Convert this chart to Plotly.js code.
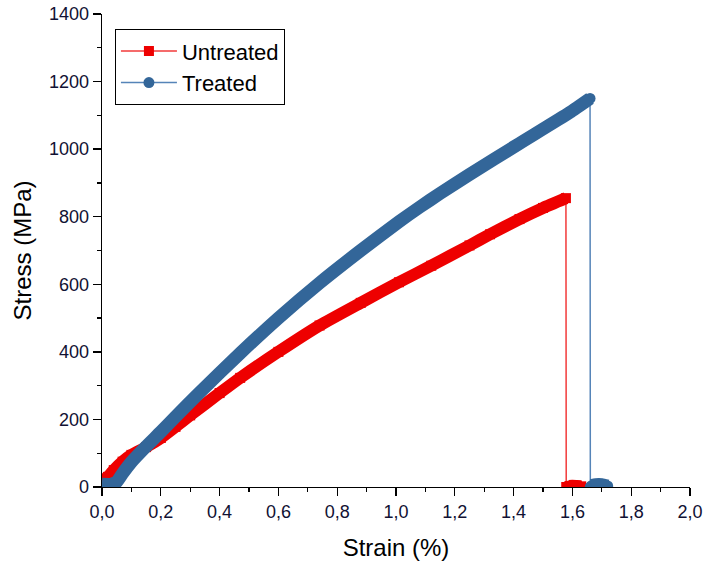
<!DOCTYPE html>
<html>
<head>
<meta charset="utf-8">
<script src="https://cdn.plot.ly/plotly-3.0.1.min.js"></script>
<style>html,body{margin:0;padding:0;background:#fff}#chart{width:705px;height:564px}</style>
</head>
<body>
<div id="chart"></div>
<script>
// Untreated: loading part up to fracture, then drop and residual points near zero
var untreatedStrain = [0.00, 0.02, 0.04, 0.07, 0.10, 0.15, 0.20, 0.25, 0.30, 0.40, 0.47, 0.60, 0.74, 0.88, 1.01, 1.12, 1.25, 1.32, 1.42, 1.50, 1.578];
var untreatedStress = [20, 30, 50, 75, 95, 118, 145, 178, 212, 278, 323, 400, 478, 545, 606, 655, 715, 748, 793, 826, 855];
var untreatedTailStrain = [1.579, 1.59, 1.60, 1.615, 1.63];
var untreatedTailStress = [0, 3, 4, 3, 2];

// Treated
var treatedStrain = [0.00, 0.03, 0.05, 0.07, 0.10, 0.15, 0.20, 0.25, 0.33, 0.47, 0.60, 0.74, 0.88, 1.01, 1.08, 1.15, 1.25, 1.42, 1.59, 1.66];
var treatedStress = [8, 8, 15, 40, 74, 120, 163, 208, 278, 396, 500, 604, 700, 785, 828, 869, 925, 1017, 1108, 1150];
var treatedTailStrain = [1.661, 1.665, 1.68, 1.70, 1.72];
var treatedTailStress = [0, 4, 7, 7, 3];

var seriesNames = ['Untreated', 'Treated'];
var xTickVals = [0, 0.2, 0.4, 0.6, 0.8, 1.0, 1.2, 1.4, 1.6, 1.8, 2.0];
var yTickVals = [0, 200, 400, 600, 800, 1000, 1200, 1400];

var RED = '#ee0000', RED_LINE = '#f23a3a';
var BLUE = '#336699', BLUE_LINE = '#5584b8';

function withGap(a, b) { return a.concat([null], b); }

var traces = [
  { // thin line + markers (legend)
    x: untreatedStrain.concat(untreatedTailStrain),
    y: untreatedStress.concat(untreatedTailStress),
    name: seriesNames[0], mode: 'lines+markers', type: 'scatter',
    line: {color: RED_LINE, width: 1.5},
    marker: {color: RED, symbol: 'square', size: 10}
  },
  {
    x: treatedStrain.concat(treatedTailStrain),
    y: treatedStress.concat(treatedTailStress),
    name: seriesNames[1], mode: 'lines+markers', type: 'scatter',
    line: {color: BLUE_LINE, width: 1.5},
    marker: {color: BLUE, symbol: 'circle', size: 11}
  },
  { // dense marker band
    x: withGap(untreatedStrain, untreatedTailStrain.slice(1)),
    y: withGap(untreatedStress, untreatedTailStress.slice(1)),
    mode: 'lines', type: 'scatter', showlegend: false, hoverinfo: 'skip',
    line: {color: RED, width: 12, shape: 'spline', smoothing: 0.5},
    connectgaps: false
  },
  {
    x: withGap(treatedStrain, treatedTailStrain.slice(1)),
    y: withGap(treatedStress, treatedTailStress.slice(1)),
    mode: 'lines', type: 'scatter', showlegend: false, hoverinfo: 'skip',
    line: {color: BLUE, width: 13, shape: 'spline', smoothing: 0.5},
    connectgaps: false
  }
];

var FONT = 'Liberation Sans, Arial, sans-serif';
var axBase = {
  showline: true, linecolor: '#000', linewidth: 1.3,
  showgrid: false, zeroline: false,
  tickcolor: '#000', tickwidth: 1.3
};

var layout = {
  width: 705, height: 564,
  margin: {l: 102, r: 15, t: 14, b: 77},
  paper_bgcolor: '#fff', plot_bgcolor: '#fff',
  separators: ',.',
  font: {family: FONT, color: '#000'},
  showlegend: true,
  legend: {
    x: 0.022, y: 0.968, xanchor: 'left', yanchor: 'top',
    bgcolor: '#fff', bordercolor: '#000', borderwidth: 1,
    font: {family: FONT, size: 22, color: '#000'},
    itemwidth: 56, tracegroupgap: 0,
    entrywidth: 176, entrywidthmode: 'pixels'
  },
  xaxis: Object.assign({}, axBase, {
    range: [0, 2], tickvals: xTickVals, tickformat: '.1f',
    ticks: 'outside', ticklen: 8,
    minor: {ticks: 'outside', ticklen: 4, dtick: 0.1, tickcolor: '#000', tickwidth: 1.3},
    tickfont: {family: FONT, size: 18, color: '#111133'},
    title: {text: 'Strain (%)', font: {family: FONT, size: 24, color: '#000'}, standoff: 18}
  }),
  yaxis: Object.assign({}, axBase, {
    range: [0, 1400], tickvals: yTickVals,
    ticks: 'outside', ticklen: 8,
    minor: {ticks: 'outside', ticklen: 4, dtick: 100, tickcolor: '#000', tickwidth: 1.3},
    tickfont: {family: FONT, size: 18, color: '#111133'},
    title: {text: 'Stress (MPa)', font: {family: FONT, size: 24, color: '#000'}, standoff: 10}
  }),
  xaxis2: Object.assign({}, axBase, {
    overlaying: 'x', side: 'top', anchor: 'y', range: [0, 2], tickvals: xTickVals,
    ticks: 'inside', ticklen: 9, showticklabels: false,
    minor: {ticks: 'inside', ticklen: 4, dtick: 0.1, tickcolor: '#000', tickwidth: 1.3}
  }),
  yaxis2: Object.assign({}, axBase, {
    overlaying: 'y', side: 'right', anchor: 'x', range: [0, 1400], tickvals: yTickVals,
    ticks: 'inside', ticklen: 9, showticklabels: false,
    minor: {ticks: 'inside', ticklen: 5, dtick: 100, tickcolor: '#000', tickwidth: 1.3}
  })
};

Plotly.newPlot('chart', traces, layout, {staticPlot: true, displayModeBar: false});
</script>
</body>
</html>
